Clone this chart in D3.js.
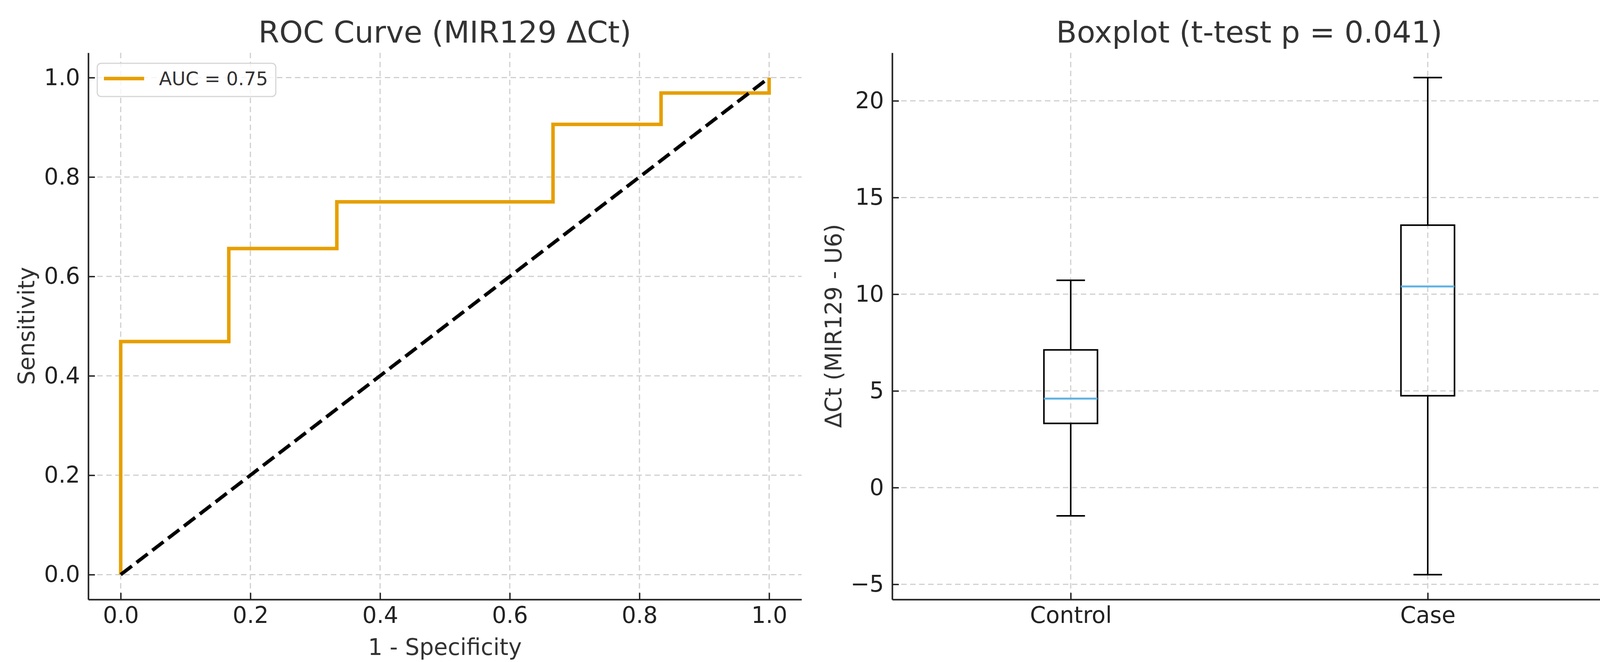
<!DOCTYPE html>
<html>
<head>
<meta charset="utf-8">
<script src="https://cdn.jsdelivr.net/npm/d3@7"></script>
<style>
  body { margin: 0; background: #fff; }
  svg { display: block; font-family: "DejaVu Sans", sans-serif; }
</style>
</head>
<body>
<div id="chart"></div>
<script>
// ROC data
var rocFpr = [0, 0, 0.1667, 0.1667, 0.3333, 0.3333, 0.6667, 0.6667, 0.8333, 0.8333, 1, 1];
var rocTpr = [0, 0.469, 0.469, 0.656, 0.656, 0.75, 0.75, 0.906, 0.906, 0.969, 0.969, 1];
var diagX = [0, 1];
var diagY = [0, 1];
var rocTicks = [0, 0.2, 0.4, 0.6, 0.8, 1.0];
var aucLabel = "AUC = 0.75";

// boxplot data
var groups = ["Control", "Case"];
var whiskLow = [-1.46, -4.5];
var q1 = [3.32, 4.75];
var medians = [4.6, 10.4];
var q3 = [7.12, 13.57];
var whiskHigh = [10.72, 21.2];
var boxTicks = [-5, 0, 5, 10, 15, 20];

var WIDTH = 4154, HEIGHT = 1694;
var TOP = 135, BOTTOM = 1534;
var ORANGE = "#e69f00";

var svg = d3.select('#chart').append('svg')
  .attr('width', WIDTH)
  .attr('height', HEIGHT);

svg.append('rect')
  .attr('width', WIDTH)
  .attr('height', HEIGHT)
  .attr('fill', '#fff');

function grid(g, xs, xTicks, ys, yTicks) {
  g.selectAll('.gx').data(xTicks).enter().append('line')
    .attr('x1', function(d) { return xs(d); })
    .attr('x2', function(d) { return xs(d); })
    .attr('y1', TOP).attr('y2', BOTTOM);
  g.selectAll('.gy').data(yTicks).enter().append('line')
    .attr('y1', function(d) { return ys(d); })
    .attr('y2', function(d) { return ys(d); })
    .attr('x1', xs.range()[0]).attr('x2', xs.range()[1]);
  g.selectAll('line')
    .attr('stroke', '#cfcfcf')
    .attr('stroke-width', 3)
    .attr('stroke-dasharray', '14,9');
}

function styleAxis(g) {
  g.select('.domain').attr('stroke', '#222').attr('stroke-width', 4);
  g.selectAll('.tick line').attr('stroke', '#222').attr('stroke-width', 3.5);
  g.selectAll('.tick text')
    .attr('fill', '#222')
    .attr('font-size', 58)
    .attr('font-family', '"DejaVu Sans", sans-serif');
}

// ---------- left: ROC ----------
var x1 = d3.scaleLinear().domain([-0.05, 1.05]).range([226, 2052]);
var y1 = d3.scaleLinear().domain([-0.05, 1.05]).range([BOTTOM, TOP]);

var left = svg.append('g');
grid(left.append('g'), x1, rocTicks, y1, rocTicks);

var line = d3.line()
  .x(function(d) { return x1(d[0]); })
  .y(function(d) { return y1(d[1]); });

left.append('path')
  .attr('d', line(d3.zip(rocFpr, rocTpr)))
  .attr('fill', 'none')
  .attr('stroke', ORANGE)
  .attr('stroke-width', 9)
  .attr('stroke-linejoin', 'miter');

left.append('path')
  .attr('d', line(d3.zip(diagX, diagY)))
  .attr('fill', 'none')
  .attr('stroke', '#000')
  .attr('stroke-width', 9)
  .attr('stroke-dasharray', '36,15');

left.append('g')
  .attr('transform', 'translate(0,' + BOTTOM + ')')
  .call(d3.axisBottom(x1).tickValues(rocTicks).tickFormat(d3.format('.1f'))
    .tickSizeInner(-17).tickSizeOuter(0).tickPadding(19))
  .call(styleAxis);

left.append('g')
  .attr('transform', 'translate(226,0)')
  .call(d3.axisLeft(y1).tickValues(rocTicks).tickFormat(d3.format('.1f'))
    .tickSizeInner(-17).tickSizeOuter(0).tickPadding(21))
  .call(styleAxis);

left.append('text')
  .attr('x', 1139).attr('y', 109)
  .attr('text-anchor', 'middle')
  .attr('font-size', 77).attr('fill', '#333')
  .text('ROC Curve (MIR129 \u0394Ct)');

left.append('text')
  .attr('x', 1139).attr('y', 1676)
  .attr('text-anchor', 'middle')
  .attr('font-size', 58).attr('fill', '#333')
  .text('1 - Specificity');

left.append('text')
  .attr('transform', 'translate(88,834) rotate(-90)')
  .attr('text-anchor', 'middle')
  .attr('font-size', 58).attr('fill', '#333')
  .text('Sensitivity');

// legend
var lg = left.append('g');
lg.append('rect')
  .attr('x', 249).attr('y', 162).attr('width', 457).attr('height', 85)
  .attr('rx', 10)
  .attr('fill', '#fff').attr('fill-opacity', 0.8)
  .attr('stroke', '#d6d6d6').attr('stroke-width', 3);
lg.append('line')
  .attr('x1', 266).attr('x2', 369).attr('y1', 201).attr('y2', 201)
  .attr('stroke', ORANGE).attr('stroke-width', 9);
lg.append('text')
  .attr('x', 407).attr('y', 218)
  .attr('font-size', 48).attr('fill', '#333')
  .text(aucLabel);

// ---------- right: boxplot ----------
var lo = d3.min(whiskLow), hi = d3.max(whiskHigh), pad = (hi - lo) * 0.05;
var x2 = d3.scaleLinear().domain([0.5, 2.5]).range([2284, 4112]);
var y2 = d3.scaleLinear().domain([lo - pad, hi + pad]).range([BOTTOM, TOP]);
var pos = groups.map(function(d, i) { return i + 1; });

var right = svg.append('g');
grid(right.append('g'), x2, pos, y2, boxTicks);

var boxW = 0.15, capW = 0.08;
var boxes = right.selectAll('.box').data(groups).enter().append('g');

boxes.append('line')
  .attr('x1', function(d, i) { return x2(pos[i]); })
  .attr('x2', function(d, i) { return x2(pos[i]); })
  .attr('y1', function(d, i) { return y2(whiskHigh[i]); })
  .attr('y2', function(d, i) { return y2(q3[i]); });
boxes.append('line')
  .attr('x1', function(d, i) { return x2(pos[i]); })
  .attr('x2', function(d, i) { return x2(pos[i]); })
  .attr('y1', function(d, i) { return y2(q1[i]); })
  .attr('y2', function(d, i) { return y2(whiskLow[i]); });
boxes.append('line')
  .attr('x1', function(d, i) { return x2(pos[i] - capW / 2); })
  .attr('x2', function(d, i) { return x2(pos[i] + capW / 2); })
  .attr('y1', function(d, i) { return y2(whiskHigh[i]); })
  .attr('y2', function(d, i) { return y2(whiskHigh[i]); });
boxes.append('line')
  .attr('x1', function(d, i) { return x2(pos[i] - capW / 2); })
  .attr('x2', function(d, i) { return x2(pos[i] + capW / 2); })
  .attr('y1', function(d, i) { return y2(whiskLow[i]); })
  .attr('y2', function(d, i) { return y2(whiskLow[i]); });
boxes.selectAll('line').attr('stroke', '#000').attr('stroke-width', 4);

boxes.append('rect')
  .attr('x', function(d, i) { return x2(pos[i] - boxW / 2); })
  .attr('width', function(d, i) { return x2(pos[i] + boxW / 2) - x2(pos[i] - boxW / 2); })
  .attr('y', function(d, i) { return y2(q3[i]); })
  .attr('height', function(d, i) { return y2(q1[i]) - y2(q3[i]); })
  .attr('fill', 'none')
  .attr('stroke', '#000').attr('stroke-width', 4);

boxes.append('line')
  .attr('x1', function(d, i) { return x2(pos[i] - boxW / 2); })
  .attr('x2', function(d, i) { return x2(pos[i] + boxW / 2); })
  .attr('y1', function(d, i) { return y2(medians[i]); })
  .attr('y2', function(d, i) { return y2(medians[i]); })
  .attr('stroke', '#5db2e3').attr('stroke-width', 5);

right.append('g')
  .attr('transform', 'translate(0,' + BOTTOM + ')')
  .call(d3.axisBottom(x2).tickValues(pos).tickFormat(function(d) { return groups[d - 1]; })
    .tickSizeInner(-17).tickSizeOuter(0).tickPadding(19))
  .call(styleAxis);

right.append('g')
  .attr('transform', 'translate(2284,0)')
  .call(d3.axisLeft(y2).tickValues(boxTicks)
    .tickSizeInner(-17).tickSizeOuter(0).tickPadding(21))
  .call(styleAxis);

right.append('text')
  .attr('x', 3198).attr('y', 109)
  .attr('text-anchor', 'middle')
  .attr('font-size', 77).attr('fill', '#333')
  .text('Boxplot (t-test p = 0.041)');

right.append('text')
  .attr('transform', 'translate(2154,834) rotate(-90)')
  .attr('text-anchor', 'middle')
  .attr('font-size', 58).attr('fill', '#333')
  .text('\u0394Ct (MIR129 - U6)');
</script>
</body>
</html>
